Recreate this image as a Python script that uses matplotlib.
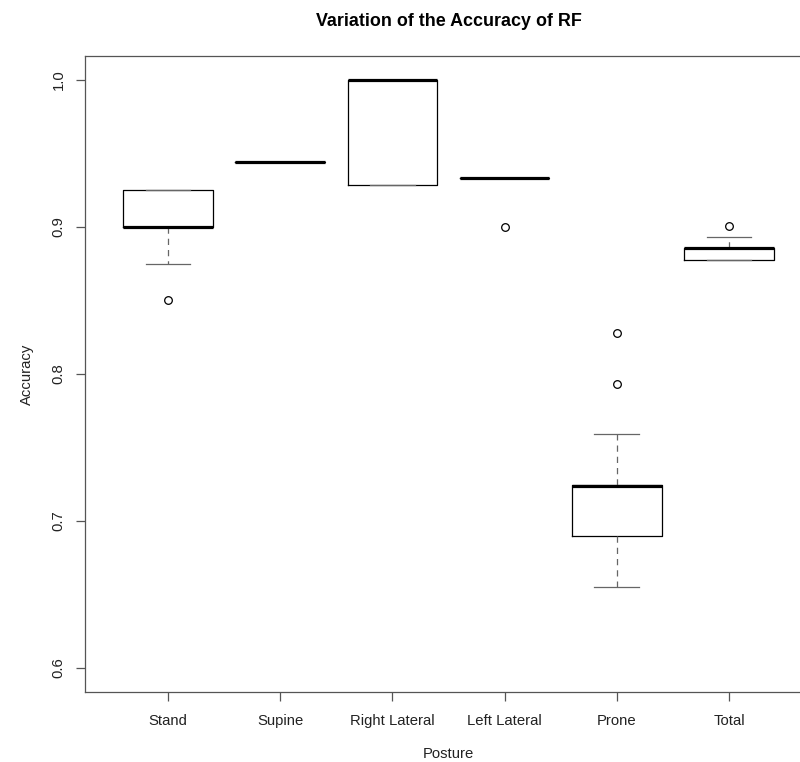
"""Boxplot of RF accuracy per posture (R base-graphics look)."""

import matplotlib
matplotlib.use("Agg")
import matplotlib.pyplot as plt

plt.rcParams["font.family"] = ["Liberation Sans", "DejaVu Sans"]

postures = ["Stand", "Supine", "Right Lateral", "Left Lateral", "Prone", "Total"]
whislo = [0.875, 0.9444, 0.9286, 0.9333, 0.655, 0.8778]
q1 = [0.900, 0.9444, 0.9286, 0.9333, 0.690, 0.8778]
med = [0.900, 0.9444, 1.000, 0.9333, 0.724, 0.8857]
q3 = [0.925, 0.9444, 1.000, 0.9333, 0.7245, 0.8857]
whishi = [0.925, 0.9444, 1.000, 0.9333, 0.759, 0.8932]
fliers = [[0.850], [], [], [0.900], [0.828, 0.793], [0.901]]

stats = []
for i, name in enumerate(postures):
    stats.append({
        "label": name, "whislo": whislo[i], "q1": q1[i], "med": med[i],
        "q3": q3[i], "whishi": whishi[i], "fliers": fliers[i],
    })

fig = plt.figure(figsize=(8.0, 7.62), dpi=100)
ax = fig.add_axes([0.10625, 0.0925, 0.90875, 0.8334])

ax.bxp(
    stats,
    positions=range(1, len(postures) + 1),
    widths=0.8,
    showfliers=True,
    boxprops=dict(color="black", linewidth=0.9),
    medianprops=dict(color="black", linewidth=2.3, solid_capstyle="butt"),
    whiskerprops=dict(color="#666666", linewidth=0.9, linestyle=(0, (5, 4))),
    capprops=dict(color="#666666", linewidth=0.9),
    capwidths=0.4,
    flierprops=dict(marker="o", markerfacecolor="none", markeredgecolor="black",
                    markersize=5.5, markeredgewidth=0.9, linestyle="none"),
)

ax.set_xlim(0.26, 6.74)
ax.set_ylim(0.584, 1.016)
ax.set_yticks([0.6, 0.7, 0.8, 0.9, 1.0])
ax.set_yticklabels(["0.6", "0.7", "0.8", "0.9", "1.0"], rotation=90, va="center")
ax.set_xticks(range(1, len(postures) + 1))
ax.set_xticklabels(postures)

for side in ax.spines.values():
    side.set_color("#555555")
    side.set_linewidth(0.9)
ax.tick_params(axis="both", length=6.5, width=0.9, color="#555555",
               labelsize=10.7, labelcolor="#222222")
ax.tick_params(axis="x", pad=10)
ax.tick_params(axis="y", pad=7.5)

ax.set_title("Variation of the Accuracy of RF", fontsize=12.9, fontweight="bold",
             pad=22)
ax.set_xlabel("Posture", fontsize=10.7, labelpad=13.5, color="#222222")
ax.set_ylabel("Accuracy", fontsize=10.7, labelpad=13, color="#222222")

plt.savefig("out.png", dpi=100)
plt.close()
